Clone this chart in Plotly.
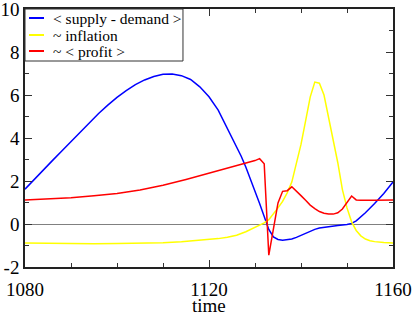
import plotly.graph_objects as go

# ---- data ----
sd_time = [1080, 1082, 1084, 1086, 1088, 1090, 1092, 1094, 1096, 1098, 1100, 1102, 1104, 1106,
           1108, 1110, 1112, 1114, 1116, 1118, 1120, 1122, 1124, 1126, 1127, 1128, 1129, 1130,
           1131, 1132, 1133, 1134, 1135, 1136, 1137, 1138, 1139, 1140, 1141, 1142, 1143, 1144,
           1146, 1148, 1150, 1151, 1152, 1154, 1156, 1158, 1160]
supply_demand = [1.62, 2.08, 2.53, 2.96, 3.40, 3.84, 4.28, 4.72, 5.14, 5.53, 5.89, 6.20, 6.48, 6.70,
                 6.86, 6.96, 6.98, 6.90, 6.72, 6.38, 5.92, 5.30, 4.45, 3.62, 3.15, 2.65, 2.10, 1.50,
                 0.95, 0.35, -0.25, -0.60, -0.72, -0.75, -0.74, -0.70, -0.62, -0.52, -0.42, -0.33, -0.25, -0.19,
                 -0.12, -0.07, -0.02, 0.03, 0.15, 0.52, 0.95, 1.42, 1.95]

inf_time = [1080, 1085, 1090, 1095, 1100, 1105, 1110, 1114, 1118, 1122, 1124, 1126, 1128, 1129,
            1130, 1131, 1132, 1133, 1134, 1135, 1136, 1137, 1138, 1139, 1140, 1141, 1142, 1143,
            1144, 1145, 1146, 1147, 1148, 1149, 1150, 1151, 1152, 1153, 1154, 1155, 1156, 1158, 1160]
inflation = [-0.88, -0.90, -0.92, -0.92, -0.91, -0.90, -0.87, -0.82, -0.76, -0.68, -0.62, -0.52, -0.36, -0.25,
             -0.15, -0.05, 0.05, 0.20, 0.45, 0.75, 1.05, 1.45, 1.95, 2.80, 3.70, 4.80, 5.90, 6.60,
             6.55, 6.00, 5.00, 3.90, 2.85, 1.60, 0.75, 0.10, -0.30, -0.55, -0.70, -0.78, -0.82, -0.86, -0.88]

pr_time = [1080, 1085, 1090, 1095, 1100, 1105, 1110, 1115, 1120, 1125, 1128, 1130, 1131, 1132,
           1133, 1134, 1135, 1136, 1137, 1138, 1139, 1140, 1141, 1142, 1143, 1144, 1145, 1146,
           1147, 1148, 1149, 1150, 1151, 1152, 1153, 1156, 1160]
profit = [1.12, 1.16, 1.22, 1.31, 1.42, 1.58, 1.80, 2.07, 2.37, 2.65, 2.82, 2.95, 3.04, 2.80,
          -1.45, -0.25, 0.98, 1.52, 1.55, 1.73, 1.50, 1.32, 1.10, 0.88, 0.72, 0.58, 0.50, 0.46,
          0.46, 0.52, 0.70, 1.00, 1.30, 1.12, 1.10, 1.11, 1.12]

names = ["&lt; supply - demand &gt;", "~ inflation", "~ &lt; profit &gt;"]
colors = ["#0000ff", "#ffff00", "#ff0000"]

x_ticks = [1080, 1120, 1160]
y_ticks = [-2, 0, 2, 4, 6, 8, 10]
x_title = "time"

FONT = "Liberation Serif"

fig = go.Figure()
for t, v, n, c in [(sd_time, supply_demand, names[0], colors[0]),
                   (inf_time, inflation, names[1], colors[1]),
                   (pr_time, profit, names[2], colors[2])]:
    fig.add_trace(go.Scatter(x=t, y=v, name=n, mode="lines",
                             line=dict(color=c, width=1.5), showlegend=False))

axis_common = dict(showline=True, linecolor="#222222", linewidth=1.5, mirror="ticks",
                   ticks="inside", ticklen=7, tickcolor="#333333", tickwidth=1,
                   showgrid=False, automargin=False, ticklabeloverflow="allow",
                   tickfont=dict(family=FONT, size=19, color="black"))

fig.update_xaxes(range=[1080, 1160], tickvals=x_ticks, ticktext=[str(v) for v in x_ticks],
                 minor=dict(dtick=10, tick0=1080, ticks="inside", ticklen=4, tickcolor="#333333"),
                 ticklabelstandoff=4,
                 zeroline=False, **axis_common)
fig.update_yaxes(range=[-2, 10], tickvals=y_ticks, ticktext=[str(v) for v in y_ticks],
                 minor=dict(dtick=1, tick0=0, ticks="inside", ticklen=4, tickcolor="#333333"),
                 zeroline=True, zerolinecolor="#808080", zerolinewidth=1.2,
                 **axis_common)

# ---- hand-placed legend box (paper coordinates) ----
L_X0, L_X1, L_Y0, L_Y1 = 0.0, 0.4293, 0.7984, 1.0
row_y = [0.9651, 0.8992, 0.8372]
shapes = [dict(type="rect", xref="paper", yref="paper", x0=L_X0, x1=L_X1, y0=L_Y0, y1=L_Y1,
               line=dict(color="#333333", width=1), fillcolor="white", layer="above")]
annotations = []
for n, c, yy in zip(names, colors, row_y):
    shapes.append(dict(type="line", xref="paper", yref="paper", x0=0.0109, x1=0.0516, y0=yy, y1=yy,
                       line=dict(color=c, width=2), layer="above"))
    annotations.append(dict(text=n, xref="paper", yref="paper", x=0.0707, y=yy,
                            xanchor="left", yanchor="middle", showarrow=False,
                            font=dict(family=FONT, size=15.5, color="black")))

# x-axis title
annotations.append(dict(text=x_title, xref="paper", yref="paper", x=0.5, y=-0.1008,
                        xanchor="center", yanchor="top", showarrow=False,
                        font=dict(family=FONT, size=19, color="black")))

fig.update_layout(
    width=415, height=315,
    margin=dict(l=25, r=22, t=9, b=48),
    plot_bgcolor="white", paper_bgcolor="white",
    showlegend=False,
    shapes=shapes, annotations=annotations,
)

fig.write_html("out.html", config={"displayModeBar": False},
               post_script="document.body.style.margin='0';document.body.style.padding='0';")
